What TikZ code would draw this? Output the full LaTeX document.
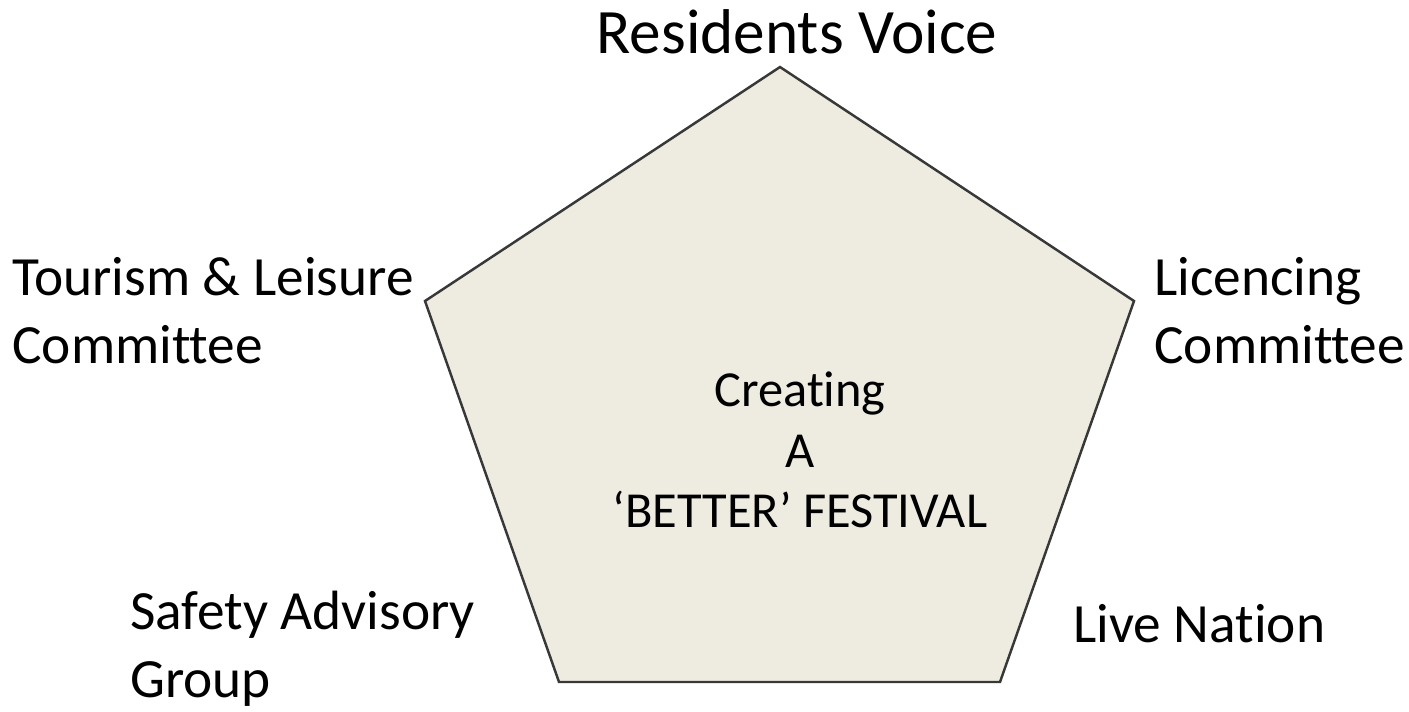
\documentclass[tikz,border=0pt]{standalone}
\usepackage{fontspec}
\setmainfont[Ligatures=NoCommon]{Carlito}
\definecolor{festfill}{HTML}{EEEBE0}
\definecolor{festline}{HTML}{383838}
\tikzset{
  party/.style={anchor=base west, align=left, inner sep=0pt, font=\fontsize{31.5}{38.5}\selectfont},
  goal/.style={align=center, inner sep=0pt, font=\fontsize{28.7}{34.6}\selectfont}
}
\begin{document}
\begin{tikzpicture}[x=0.02cm,y=-0.02cm]
\useasboundingbox (0,0) rectangle (1409,711);

% pentagon
\coordinate (top) at (780,67);
\coordinate (lft) at (425,301);
\coordinate (rgt) at (1134,301);
\coordinate (bl) at (559,682);
\coordinate (br) at (1000,682);
\draw[festline, line width=1.4pt, fill=festfill, line join=miter] (top) -- (rgt) -- (br) -- (bl) -- (lft) -- cycle;

\node[goal] (better) at (800,450) {Creating\\A\\‘BETTER’ FESTIVAL};

\node[anchor=base, inner sep=0pt, font=\fontsize{36}{42}\selectfont] (voice) at (797,53) {Residents Voice};
\node[party] (tourism) at (12,363) {Tourism \& Leisure\\Committee};
\node[party] (licence) at (1154,363) {Licencing\\Committee};
\node[party] (safety) at (130,697) {Safety Advisory\\Group};
\node[party] (live) at (1073,642) {Live Nation};

\end{tikzpicture}
\end{document}
